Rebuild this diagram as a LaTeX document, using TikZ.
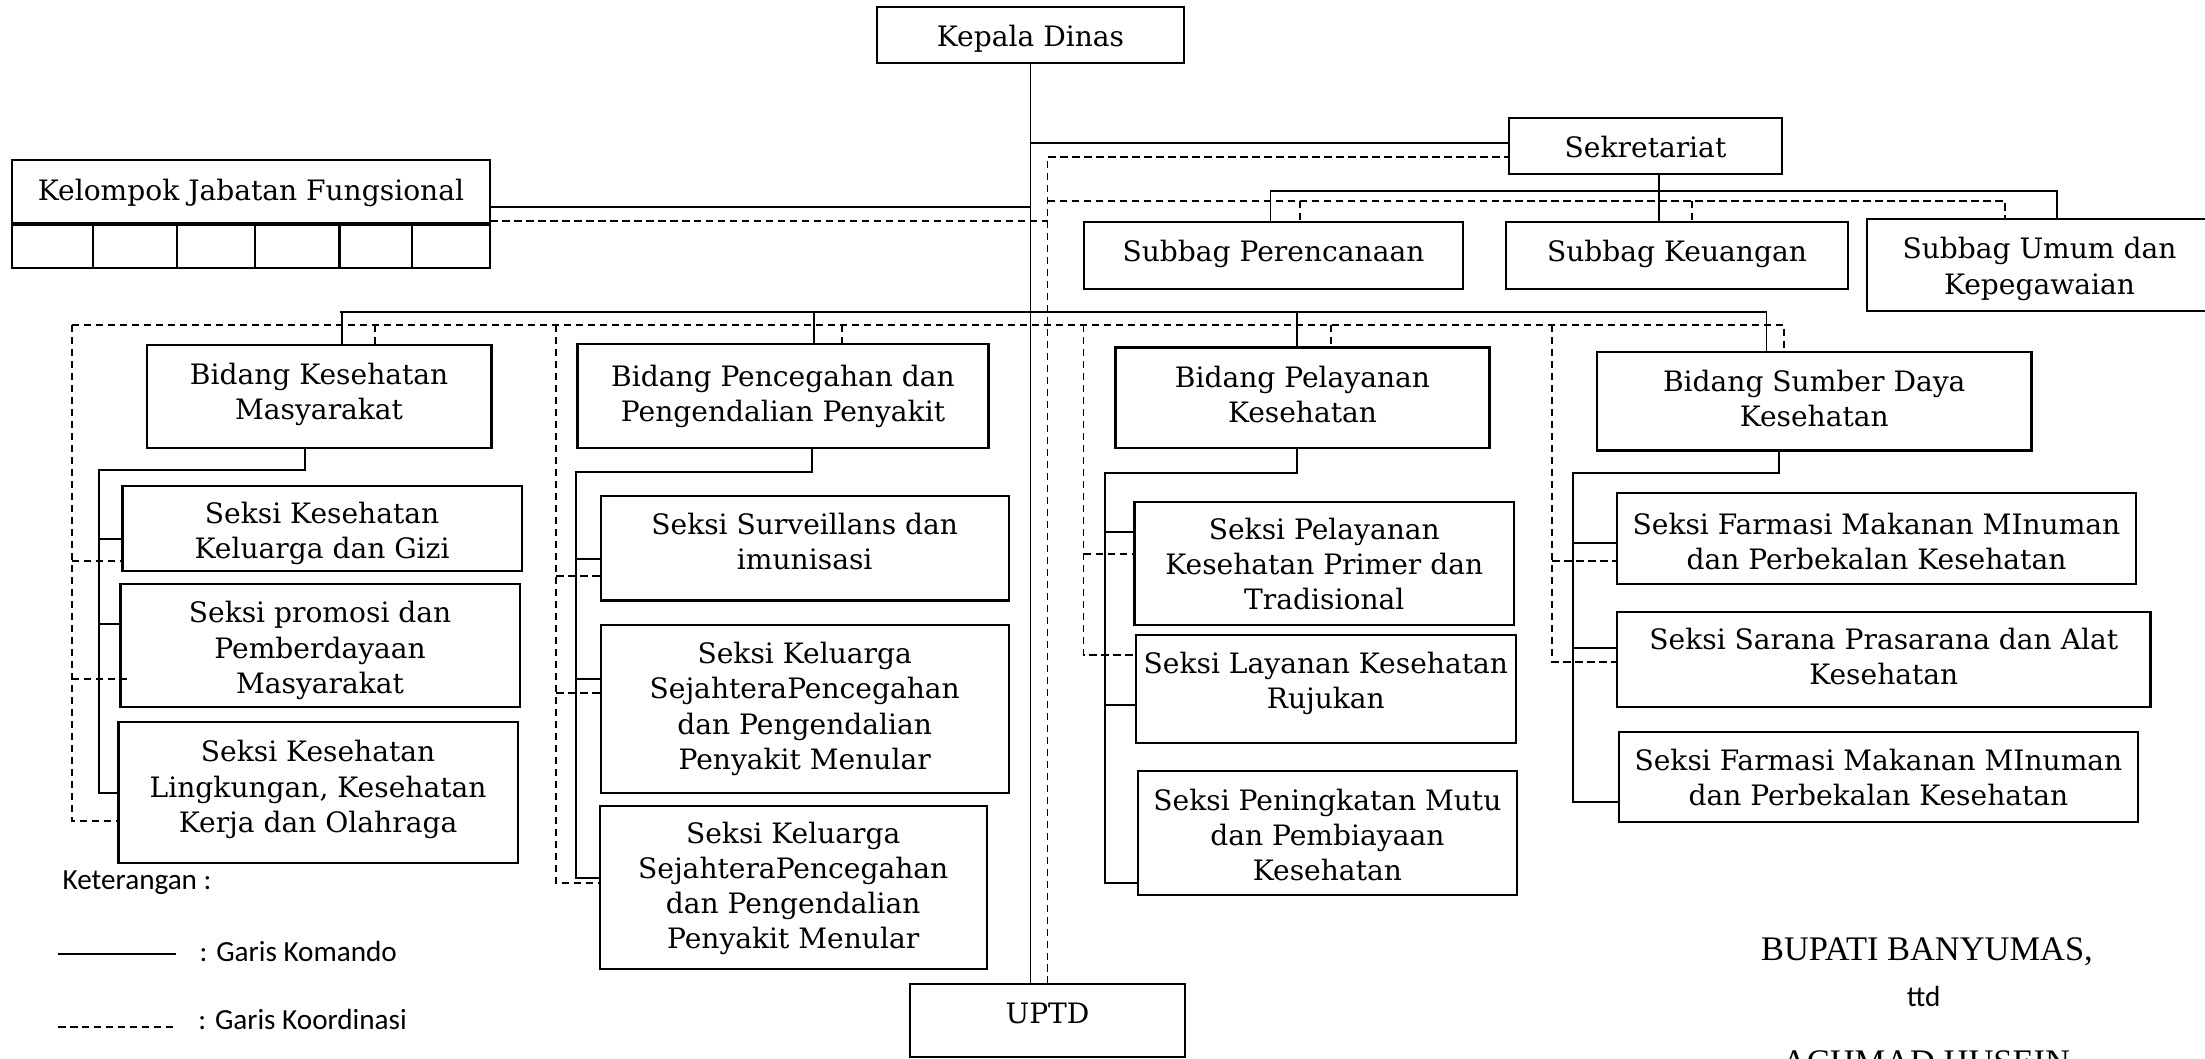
\documentclass[tikz,border=0pt]{standalone}
\usepackage{fontspec}
\setmainfont{DejaVu Serif}
\newfontfamily\legfont{Carlito}
\newfontfamily\sigfont{Liberation Serif}
% \bx[text shift down in px]{name}{x1}{y1}{x2}{y2}{text}
\newcommand{\bx}[7][0]{%
  \node[box, minimum width={(#5-#3)*0.1mm}, minimum height={(#6-#4)*0.1mm}] (#2) at ({(#3+#5)/2},{(#4+#6)/2}) {};
  \node[boxtext, yshift={-(#1)*0.1mm}] (#2t) at (#2.center) {#7};}
\begin{document}
\begin{tikzpicture}[x=0.1mm,y=-0.1mm,
  box/.style={draw, line width=0.6pt, inner sep=0pt, outer sep=0pt},
  boxtext/.style={inner sep=0pt, outer sep=0pt, align=center, font=\fontsize{8}{10}\selectfont},
  cmd/.style={line width=0.55pt},
  crd/.style={line width=0.55pt, dash pattern=on 0.75mm off 0.45mm},
  leg/.style={inner sep=0pt, font=\legfont\fontsize{8.3}{10}\selectfont},
  sig/.style={inner sep=0pt, font=\sigfont\fontsize{9.8}{11}\selectfont}]
\useasboundingbox (0,0) rectangle (2205,1059);
\clip (0,0) rectangle (2205,1059);
% boxes
\bx[4]{kd}{877}{7}{1184}{63}{Kepala Dinas}
\bx[1]{sek}{1509}{118}{1782}{174}{Sekretariat}
\bx[1]{kjf}{12}{160}{490}{223}{Kelompok Jabatan Fungsional}
\bx{c1}{12}{225}{92.6}{268}{}
\bx{c2}{92.6}{225}{176.8}{268}{}
\bx{c3}{176.8}{225}{254.6}{268}{}
\bx{c4}{254.6}{225}{339.5}{268}{}
\bx{c5}{339.5}{225}{411.8}{268}{}
\bx{c6}{411.8}{225}{490}{268}{}
\bx[-2]{sp}{1084}{222}{1463}{289}{Subbag Perencanaan}
\bx[-2]{sk}{1506}{222}{1848}{289}{Subbag Keuangan}
\bx[4]{su}{1867}{219}{2212}{311}{Subbag Umum dan\\Kepegawaian}
\bx[-2]{bkm}{146.7}{345}{491.5}{448.3}{Bidang Kesehatan\\Masyarakat}
\bx{bpp}{577.5}{344.3}{988.5}{448.3}{Bidang Pencegahan dan\\Pengendalian Penyakit}
\bx[-3]{byk}{1115.5}{347.5}{1489.5}{448.3}{Bidang Pelayanan\\Kesehatan}
\bx[-3]{bsd}{1597}{352}{2031.5}{450.5}{Bidang Sumber Daya\\Kesehatan}
\bx[5]{sa}{122.5}{486}{521.7}{571.3}{Seksi Kesehatan\\Keluarga dan Gizi}
\bx[5]{sb}{120.5}{583.7}{519.7}{707.3}{Seksi promosi dan\\Pemberdayaan\\Masyarakat}
\bx[-3]{sc}{118.5}{721.7}{517.7}{863.3}{Seksi Kesehatan\\Lingkungan, Kesehatan\\Kerja dan Olahraga}
\bx[-7]{sd}{600.7}{496}{1008.7}{600.5}{Seksi Surveillans dan\\imunisasi}
\bx{se}{600.7}{625.3}{1008.7}{792.7}{Seksi Keluarga\\SejahteraPencegahan\\dan Pengendalian\\Penyakit Menular}
\bx[1]{sf}{599.6}{805.7}{986.8}{969.3}{Seksi Keluarga\\SejahteraPencegahan\\dan Pengendalian\\Penyakit Menular}
\bx[1]{sg}{1134.5}{501.7}{1514.1}{625}{Seksi Pelayanan\\Kesehatan Primer dan\\Tradisional}
\bx[-6]{sh}{1136}{635}{1515.7}{743.3}{Seksi Layanan Kesehatan\\Rujukan}
\bx[2]{si}{1137.6}{771}{1517.2}{895}{Seksi Peningkatan Mutu\\dan Pembiayaan\\Kesehatan}
\bx[3]{sj}{1617.1}{493.3}{2135.9}{584}{Seksi Farmasi Makanan MInuman\\dan Perbekalan Kesehatan}
\bx[-3]{sl}{1617.1}{611.7}{2150.5}{706.7}{Seksi Sarana Prasarana dan Alat\\Kesehatan}
\bx[1]{sm}{1618.7}{731.7}{2138.2}{821.7}{Seksi Farmasi Makanan MInuman\\dan Perbekalan Kesehatan}
\bx[-7]{uptd}{910.4}{984}{1184.6}{1057.3}{UPTD}
% command lines
\draw[cmd] (kd.south) -- (kd.south |- uptd.north);
\draw[cmd] (kd.south |- 0,143) -- (sek.west |- 0,143);
\draw[cmd] (kjf.east |- 0,206.7) -- (kd.south |- 0,206.7);
\draw[cmd] (339.5,311.7) -- (1767,311.7);
\draw[cmd] (bkm.north -| 341.6,0) -- (341.6,311.7);
\draw[cmd] (bpp.north -| 814,0) -- (814,311.7);
\draw[cmd] (byk.north -| 1296.7,0) -- (1296.7,311.7);
\draw[cmd] (bsd.north -| 1766.5,0) -- (1766.5,311.7);
\draw[cmd] (sek.south -| 1658.6,0) -- (sk.north -| 1658.6,0);
\draw[cmd] (sp.north -| 1270.5,0) -- (1270.5,190.7) -- (2056.7,190.7) -- (su.north -| 2056.7,0);
\draw[cmd] (bkm.south -| 304.7,0) -- (304.7,470) -- (99,470) -- (99,792.7) -- (sc.west |- 0,792.7);
\draw[cmd] (99,538.7) -- (sa.west |- 0,538.7);
\draw[cmd] (99,624) -- (sb.west |- 0,624);
\draw[cmd] (bpp.south -| 811.6,0) -- (811.6,472.3) -- (576,472.3) -- (576,877.7) -- (sf.west |- 0,877.7);
\draw[cmd] (576,559) -- (sd.west |- 0,559);
\draw[cmd] (576,679.3) -- (se.west |- 0,679.3);
\draw[cmd] (byk.south -| 1296.6,0) -- (1296.6,473.3) -- (1105.3,473.3) -- (1105.3,882.7) -- (si.west |- 0,882.7);
\draw[cmd] (1105.3,532.3) -- (sg.west |- 0,532.3);
\draw[cmd] (1105.3,705) -- (sh.west |- 0,705);
\draw[cmd] (bsd.south -| 1779,0) -- (1779,473.3) -- (1573,473.3) -- (1573,801.7) -- (sm.west |- 0,801.7);
\draw[cmd] (1573,543.3) -- (sj.west |- 0,543.3);
\draw[cmd] (1573,648.3) -- (sl.west |- 0,648.3);
% coordination lines
\draw[crd] (uptd.north) -- (1047.5,156.7) -- (sek.west |- 0,156.7);
\draw[crd] (kjf.east |- 0,220.7) -- (1047.5,220.7);
\draw[crd] (1047.5,200.7) -- (2005,200.7) -- (su.north -| 2005,0);
\draw[crd] (1299.7,200.7) -- (sp.north -| 1299.7,0);
\draw[crd] (1691.7,200.7) -- (sk.north -| 1691.7,0);
\draw[crd] (71.6,325) -- (1784,325) -- (bsd.north -| 1784,0);
\draw[crd] (375.3,325) -- (bkm.north -| 375.3,0);
\draw[crd] (842,325) -- (bpp.north -| 842,0);
\draw[crd] (1331,325) -- (byk.north -| 1331,0);
\draw[crd] (71.6,325) -- (71.6,821) -- (sc.west |- 0,821);
\draw[crd] (71.6,561) -- (sa.west |- 0,561);
\draw[crd] (71.6,679.3) -- (127,679.3);
\draw[crd] (556,325) -- (556,883.3) -- (sf.west |- 0,883.3);
\draw[crd] (556,575.7) -- (sd.west |- 0,575.7);
\draw[crd] (556,692.7) -- (se.west |- 0,692.7);
\draw[crd] (1083.5,325) -- (1083.5,655) -- (sh.west |- 0,655);
\draw[crd] (1083.5,554.3) -- (sg.west |- 0,554.3);
\draw[crd] (1552,325) -- (1552,661.7) -- (sl.west |- 0,661.7);
\draw[crd] (1552,561) -- (sj.west |- 0,561);
% legend
\node[leg, anchor=west] (ket) at (62,883) {Keterangan :};
\coordinate (la1) at (58,953.7); \coordinate (la2) at (176,953.7);
\coordinate (lb1) at (58,1026.7); \coordinate (lb2) at (176,1026.7);
\draw[cmd] (la1) -- (la2);
\draw[crd] (lb1) -- (lb2);
\node[leg, anchor=west] (gk) at (199,951.7) {: Garis Komando};
\node[leg, anchor=west] (gko) at (197.7,1019.3) {: Garis Koordinasi};
% signature
\node[sig] (bup) at (1927,951.7) {BUPATI BANYUMAS,};
\node[leg] (ttd) at (1923.6,996.7) {ttd};
\node[sig, anchor=north] (ach) at (1926,1050) {ACHMAD HUSEIN};
\end{tikzpicture}
\end{document}
